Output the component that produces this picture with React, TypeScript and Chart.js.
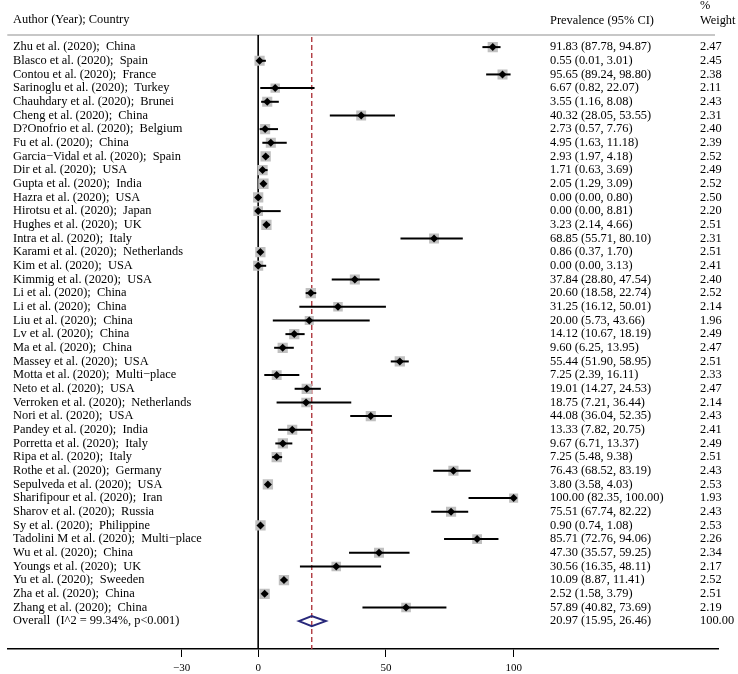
import React, { useEffect, useRef } from "react";
import { Chart, registerables } from "chart.js";

Chart.register(...registerables);

const studies = [
  "Zhu et al. (2020);  China",
  "Blasco et al. (2020);  Spain",
  "Contou et al. (2020);  France",
  "Sarinoglu et al. (2020);  Turkey",
  "Chauhdary et al. (2020);  Brunei",
  "Cheng et al. (2020);  China",
  "D?Onofrio et al. (2020);  Belgium",
  "Fu et al. (2020);  China",
  "Garcia\u2212Vidal et al. (2020);  Spain",
  "Dir et al. (2020);  USA",
  "Gupta et al. (2020);  India",
  "Hazra et al. (2020);  USA",
  "Hirotsu et al. (2020);  Japan",
  "Hughes et al. (2020);  UK",
  "Intra et al. (2020);  Italy",
  "Karami et al. (2020);  Netherlands",
  "Kim et al. (2020);  USA",
  "Kimmig et al. (2020);  USA",
  "Li et al. (2020);  China",
  "Li et al. (2020);  China",
  "Liu et al. (2020);  China",
  "Lv et al. (2020);  China",
  "Ma et al. (2020);  China",
  "Massey et al. (2020);  USA",
  "Motta et al. (2020);  Multi\u2212place",
  "Neto et al. (2020);  USA",
  "Verroken et al. (2020);  Netherlands",
  "Nori et al. (2020);  USA",
  "Pandey et al. (2020);  India",
  "Porretta et al. (2020);  Italy",
  "Ripa et al. (2020);  Italy",
  "Rothe et al. (2020);  Germany",
  "Sepulveda et al. (2020);  USA",
  "Sharifipour et al. (2020);  Iran",
  "Sharov et al. (2020);  Russia",
  "Sy et al. (2020);  Philippine",
  "Tadolini M et al. (2020);  Multi\u2212place",
  "Wu et al. (2020);  China",
  "Youngs et al. (2020);  UK",
  "Yu et al. (2020);  Sweeden",
  "Zha et al. (2020);  China",
  "Zhang et al. (2020);  China",
];

const estimates = [
  91.83, 0.55, 95.65, 6.67, 3.55, 40.32, 2.73, 4.95, 2.93, 1.71, 2.05, 0.0, 0.0,
  3.23, 68.85, 0.86, 0.0, 37.84, 20.6, 31.25, 20.0, 14.12, 9.6, 55.44, 7.25,
  19.01, 18.75, 44.08, 13.33, 9.67, 7.25, 76.43, 3.8, 100.0, 75.51, 0.9, 85.71,
  47.3, 30.56, 10.09, 2.52, 57.89,
];

const lower = [
  87.78, 0.01, 89.24, 0.82, 1.16, 28.05, 0.57, 1.63, 1.97, 0.63, 1.29, 0.0, 0.0,
  2.14, 55.71, 0.37, 0.0, 28.8, 18.58, 16.12, 5.73, 10.67, 6.25, 51.9, 2.39,
  14.27, 7.21, 36.04, 7.82, 6.71, 5.48, 68.52, 3.58, 82.35, 67.74, 0.74, 72.76,
  35.57, 16.35, 8.87, 1.58, 40.82,
];

const upper = [
  94.87, 3.01, 98.8, 22.07, 8.08, 53.55, 7.76, 11.18, 4.18, 3.69, 3.09, 0.8,
  8.81, 4.66, 80.1, 1.7, 3.13, 47.54, 22.74, 50.01, 43.66, 18.19, 13.95, 58.95,
  16.11, 24.53, 36.44, 52.35, 20.75, 13.37, 9.38, 83.19, 4.03, 100.0, 82.22,
  1.08, 94.06, 59.25, 48.11, 11.41, 3.79, 73.69,
];

const weights = [
  2.47, 2.45, 2.38, 2.11, 2.43, 2.31, 2.4, 2.39, 2.52, 2.49, 2.52, 2.5, 2.2,
  2.51, 2.31, 2.51, 2.41, 2.4, 2.52, 2.14, 1.96, 2.49, 2.47, 2.51, 2.33, 2.47,
  2.14, 2.43, 2.41, 2.49, 2.51, 2.43, 2.53, 1.93, 2.43, 2.53, 2.26, 2.34, 2.17,
  2.52, 2.51, 2.19,
];

const overallLabel = "Overall  (I^2 = 99.34%, p<0.001)";
const overallEstimate = 20.97;
const overallLower = 15.95;
const overallUpper = 26.46;
const overallWeight = 100.0;

const xTicks = [-30, 0, 50, 100];

const headerStudy = "Author (Year); Country";
const headerEstimate = "Prevalence (95% CI)";
const headerWeight1 = "%";
const headerWeight2 = "Weight";

const FONT = '"Liberation Serif", "Times New Roman", serif';

export default function App() {
  const ref = useRef<HTMLCanvasElement | null>(null);

  useEffect(() => {
    document.body.style.margin = "0";
    const canvas = ref.current;
    if (!canvas) return;
    const n = studies.length;
    const overallRow = n;

    const forestPlugin = {
      id: "forest",
      beforeDatasetsDraw(chart: any) {
        const { ctx, chartArea, scales } = chart;
        const x = scales.x;
        ctx.save();
        // header rule
        ctx.strokeStyle = "#b4b4b4";
        ctx.lineWidth = 1.5;
        ctx.beginPath();
        ctx.moveTo(chartArea.left, chartArea.top);
        ctx.lineTo(715, chartArea.top);
        ctx.stroke();
        // null line
        ctx.strokeStyle = "#000";
        ctx.lineWidth = 1.6;
        const x0 = x.getPixelForValue(0);
        ctx.beginPath();
        ctx.moveTo(x0, chartArea.top);
        ctx.lineTo(x0, chartArea.bottom);
        ctx.stroke();
        // overall dashed line
        const xo = x.getPixelForValue(overallEstimate);
        ctx.strokeStyle = "#b03a40";
        ctx.lineWidth = 1.4;
        ctx.setLineDash([5, 3]);
        ctx.beginPath();
        ctx.moveTo(xo, chartArea.top + 2);
        ctx.lineTo(xo, chartArea.bottom);
        ctx.stroke();
        ctx.restore();
      },
      afterDatasetsDraw(chart: any) {
        const { ctx, scales, chartArea } = chart;
        const x = scales.x;
        const y = scales.y;
        ctx.save();
        // CI lines
        ctx.strokeStyle = "#000";
        ctx.lineWidth = 2;
        for (let i = 0; i < n; i++) {
          const yy = y.getPixelForValue(i);
          ctx.beginPath();
          ctx.moveTo(x.getPixelForValue(lower[i]), yy);
          ctx.lineTo(x.getPixelForValue(upper[i]), yy);
          ctx.stroke();
        }
        // overall diamond
        const yo = y.getPixelForValue(overallRow);
        const h = 5;
        ctx.strokeStyle = "#28287a";
        ctx.lineWidth = 2;
        ctx.beginPath();
        ctx.moveTo(x.getPixelForValue(overallLower), yo);
        ctx.lineTo(x.getPixelForValue(overallEstimate), yo - h);
        ctx.lineTo(x.getPixelForValue(overallUpper), yo);
        ctx.lineTo(x.getPixelForValue(overallEstimate), yo + h);
        ctx.closePath();
        ctx.stroke();

        // tick labels
        ctx.fillStyle = "#000";
        ctx.font = `11px ${FONT}`;
        ctx.textAlign = "center";
        ctx.textBaseline = "middle";
        for (const v of xTicks) {
          const label = v < 0 ? "\u2212" + Math.abs(v) : String(v);
          ctx.fillText(label, x.getPixelForValue(v), chartArea.bottom + 19);
        }

        // texts
        ctx.font = `12.4px ${FONT}`;
        ctx.textAlign = "left";
        const colStudy = 13;
        const colEst = 550;
        const colW = 700;
        ctx.fillText(headerStudy, colStudy, 20);
        ctx.fillText(headerEstimate, colEst, 21);
        ctx.fillText(headerWeight1, colW, 6);
        ctx.fillText(headerWeight2, colW, 21);
        for (let i = 0; i < n; i++) {
          const yy = y.getPixelForValue(i);
          ctx.fillText(studies[i], colStudy, yy);
          ctx.fillText(
            `${estimates[i].toFixed(2)} (${lower[i].toFixed(2)}, ${upper[i].toFixed(2)})`,
            colEst,
            yy
          );
          ctx.fillText(weights[i].toFixed(2), colW, yy);
        }
        ctx.fillText(overallLabel, colStudy, yo);
        ctx.fillText(
          `${overallEstimate.toFixed(2)} (${overallLower.toFixed(2)}, ${overallUpper.toFixed(2)})`,
          colEst,
          yo
        );
        ctx.fillText(overallWeight.toFixed(2), colW, yo);
        ctx.restore();
      },
    };

    const chart = new Chart(canvas, {
      type: "scatter",
      data: {
        datasets: [
          {
            label: "weight",
            data: estimates.map((e, i) => ({ x: e, y: i })),
            pointStyle: "rect",
            pointRadius: (c: any) => (6.5 * Math.sqrt(weights[c.dataIndex] ?? 2.5)) / Math.SQRT2,
            pointBackgroundColor: "#c0c0c0",
            pointBorderWidth: 0,
            pointBorderColor: "#c0c0c0",
            order: 2,
          },
          {
            label: "estimate",
            data: estimates.map((e, i) => ({ x: e, y: i })),
            pointStyle: "rectRot",
            pointRadius: 4,
            pointBackgroundColor: "#000",
            pointBorderWidth: 0,
            pointBorderColor: "#000",
            order: 1,
          },
        ],
      },
      options: {
        responsive: false,
        animation: false,
        events: [],
        layout: { padding: { top: 35, left: 2, right: 20, bottom: 17 } },
        plugins: { legend: { display: false }, tooltip: { enabled: false } },
        scales: {
          x: {
            type: "linear",
            min: -98.2,
            max: 180,
            afterBuildTicks: (s: any) => {
              s.ticks = xTicks.map((v) => ({ value: v }));
            },
            ticks: { display: false },
            grid: {
              drawOnChartArea: false,
              drawTicks: true,
              tickLength: 8,
              color: "#000",
              lineWidth: 1,
            },
            border: { display: true, color: "#000", width: 1.6 },
          },
          y: {
            type: "linear",
            display: false,
            reverse: true,
            min: -0.886,
            max: 44.04,
          },
        },
      },
      plugins: [forestPlugin],
    } as any);

    return () => chart.destroy();
  }, []);

  return (
    <canvas
      ref={ref}
      width={738}
      height={674}
      style={{ display: "block", width: 738, height: 674 }}
    />
  );
}
